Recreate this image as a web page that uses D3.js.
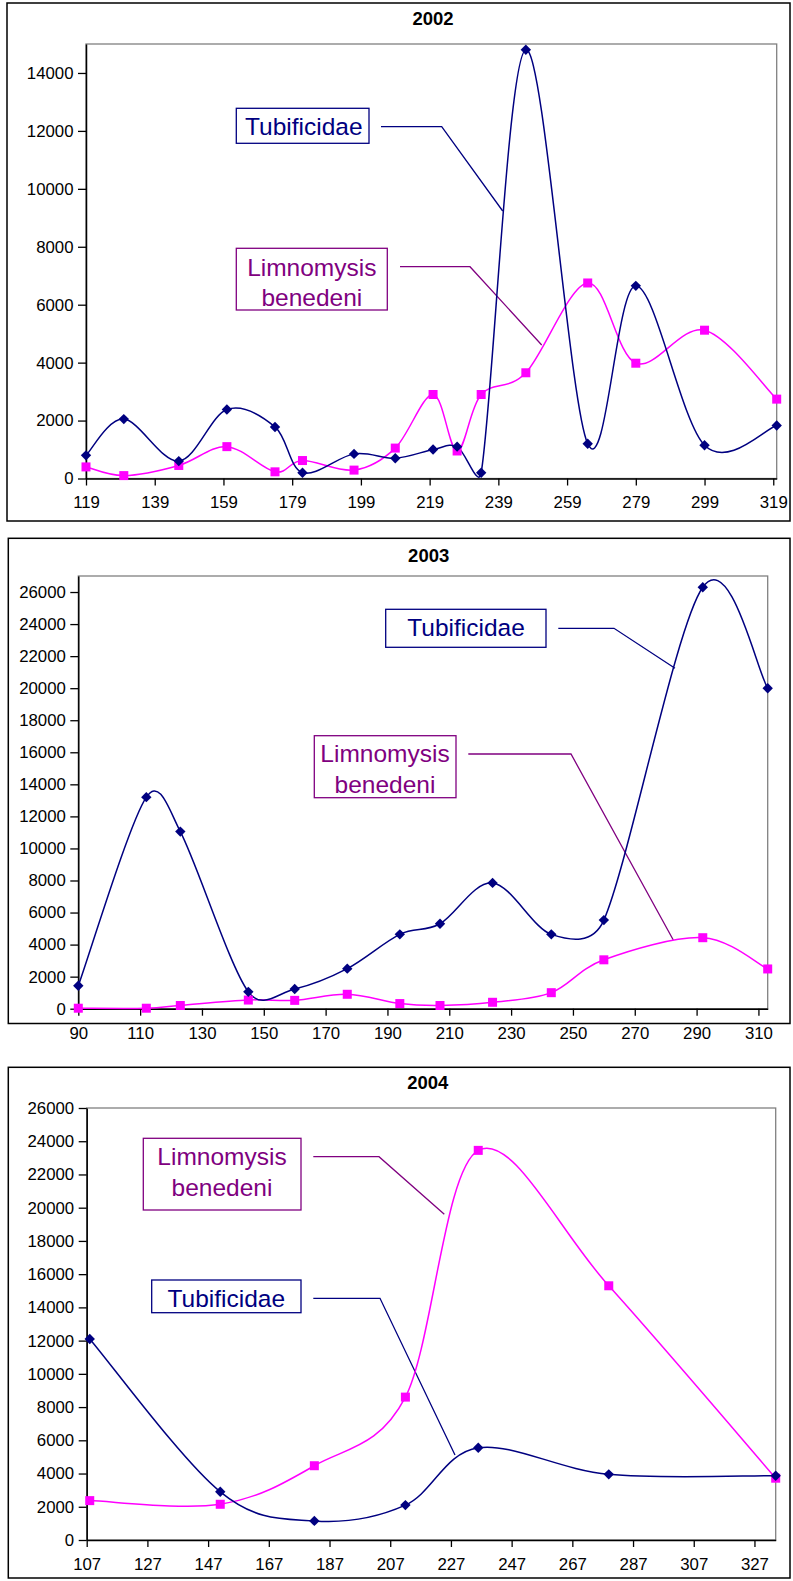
<!DOCTYPE html>
<html><head><meta charset="utf-8">
<script src="https://cdn.jsdelivr.net/npm/d3@7"></script>
<style>body{margin:0;background:#fff}</style>
</head><body><svg id="c" width="793" height="1581"></svg>
<script>
// ---------- data ----------
const days2002 = [119,130,146,160,174,182,197,209,220,227,234,247,265,279,299,320];
const tub2002  = [800,2050,600,2380,1780,200,850,700,1000,1100,200,14800,1200,6650,1150,1830];
const lim2002  = [400,100,450,1100,230,620,290,1050,2900,950,2900,3650,6750,3980,5120,2740];
const xTicks2002 = [119,139,159,179,199,219,239,259,279,299,319];
const yTicks2002 = [0,2000,4000,6000,8000,10000,12000,14000];

const days2003 = [90,112,123,145,160,177,194,207,224,243,260,292,313];
const tub2003  = [1430,13200,11050,1050,1230,2500,4640,5300,7850,4640,5530,26300,20000];
const lim2003  = [30,30,200,540,520,900,320,200,400,1000,3050,4430,2480];
const xTicks2003 = [90,110,130,150,170,190,210,230,250,270,290,310];
const yTicks2003 = [0,2000,4000,6000,8000,10000,12000,14000,16000,18000,20000,22000,24000,26000];

const days2004 = [108,151,182,212,236,279,334];
const tub2004  = [12100,2900,1150,2100,5550,3950,3870];
const lim2004  = [2370,2150,4470,8600,23450,15300,3720];
const xTicks2004 = [107,127,147,167,187,207,227,247,267,287,307,327];
const yTicks2004 = [0,2000,4000,6000,8000,10000,12000,14000,16000,18000,20000,22000,24000,26000];

const seriesNames = ["Tubificidae", "Limnomysis benedeni"];

// ---------- layout ----------
const NAVY = "#000080", MAG = "#FF00FF", PURP = "#800080";
const FONT = "'Liberation Sans', Arial, Helvetica, sans-serif";
const panels = [
  { title:"2002", outer:[7,3,790,521], plot:[86,44,776.7,478.5], xd:[119,320], yd:[0,15000],
    days:days2002, tub:tub2002, lim:lim2002, xt:xTicks2002, yt:yTicks2002, titlePos:[433,25],
    tubBox:{r:[236.3,108.3,369,143.3], lines:[135], cx:303.8, lead:[[381,126.7],[441.7,126.7],[502.7,211]]},
    limBox:{r:[236.3,248.3,387.3,310], lines:[276,306], cx:311.8, lead:[[400,266.7],[470,266.7],[541.7,345]]} },
  { title:"2003", outer:[8.3,538.3,790,1023.5], plot:[78.3,576,767.7,1008.7], xd:[90,313], yd:[0,27000],
    days:days2003, tub:tub2003, lim:lim2003, xt:xTicks2003, yt:yTicks2003, titlePos:[428.7,561.7],
    tubBox:{r:[385.7,609.3,546,647.3], lines:[636], cx:466, lead:[[558.3,628.3],[614,628.3],[675,668.3]]},
    limBox:{r:[314.3,735.7,456,797.7], lines:[761.7,792.7], cx:385, lead:[[468.3,754],[571,754],[673.3,940]]} },
  { title:"2004", outer:[8.3,1067.3,790,1578], plot:[86.7,1108,775.7,1540], xd:[107,334], yd:[0,26000],
    days:days2004, tub:tub2004, lim:lim2004, xt:xTicks2004, yt:yTicks2004, titlePos:[427.8,1089],
    tubBox:{r:[151.7,1280,301,1312.7], lines:[1306.7], cx:226.3, lead:[[313.3,1298.3],[380,1298.3],[455,1455]]},
    limBox:{r:[143.3,1138.3,301,1210], lines:[1165,1195.7], cx:222, lead:[[313.3,1156.7],[379,1156.7],[444.3,1214.3]]} }
];

// Excel-like smoothed line: cubic Bezier with tangents (P[i+1]-P[i-1])/6,
// each control arm capped at half of its adjacent segment length.
function smoothPath(P) {
  const n = P.length;
  if (n < 2) return "";
  const dist = (a, b) => Math.hypot(b[0]-a[0], b[1]-a[1]);
  const outC = [], inC = [];
  for (let i = 0; i < n; i++) {
    const a = P[Math.max(0, i-1)], b = P[Math.min(n-1, i+1)];
    const bx = (b[0]-a[0])/6, by = (b[1]-a[1])/6;
    const bl = Math.hypot(bx, by) || 1;
    const dOut = i < n-1 ? dist(P[i], P[i+1]) : 0;
    const dIn = i > 0 ? dist(P[i-1], P[i]) : 0;
    const so = Math.min(1, (dOut/2)/bl), si = Math.min(1, (dIn/2)/bl);
    outC.push([P[i][0] + bx*so, P[i][1] + by*so]);
    inC.push([P[i][0] - bx*si, P[i][1] - by*si]);
  }
  let d = `M${P[0][0]},${P[0][1]}`;
  for (let i = 0; i < n-1; i++) {
    d += `C${outC[i][0]},${outC[i][1]},${inC[i+1][0]},${inC[i+1][1]},${P[i+1][0]},${P[i+1][1]}`;
  }
  return d;
}

const svg = d3.select("#c");

panels.forEach(p => {
  const g = svg.append("g");
  const [ox0, oy0, ox1, oy1] = p.outer;
  g.append("rect").attr("x", ox0).attr("y", oy0).attr("width", ox1-ox0).attr("height", oy1-oy0)
    .attr("fill", "#fff").attr("stroke", "#000").attr("stroke-width", 1.5);

  const [px0, py0, px1, py1] = p.plot;
  const x = d3.scaleLinear().domain(p.xd).range([px0, px1]);
  const y = d3.scaleLinear().domain(p.yd).range([py1, py0]);

  g.append("rect").attr("x", px0).attr("y", py0).attr("width", px1-px0).attr("height", py1-py0)
    .attr("fill", "#fff").attr("stroke", "#808080").attr("stroke-width", 1.3);

  g.append("text").attr("x", p.titlePos[0]).attr("y", p.titlePos[1]).attr("text-anchor", "middle")
    .attr("font-family", FONT).attr("font-weight", "bold").attr("font-size", 18.5).text(p.title);

  const ya = g.append("g").attr("transform", `translate(${px0},0)`)
    .call(d3.axisLeft(y).tickValues(p.yt).tickSize(8).tickSizeOuter(0).tickPadding(4.5).tickFormat(d3.format("d")));
  const xa = g.append("g").attr("transform", `translate(0,${py1})`)
    .call(d3.axisBottom(x).tickValues(p.xt).tickSize(7).tickSizeOuter(0).tickPadding(11).tickFormat(d3.format("d")));
  [ya, xa].forEach(a => {
    a.attr("font-family", FONT).attr("font-size", 16.8);
    a.selectAll("text").attr("font-family", FONT).attr("font-size", 16.8).attr("fill", "#000");
    a.selectAll("line").attr("stroke", "#000").attr("stroke-width", 1.3);
    a.select(".domain").attr("stroke", "#000").attr("stroke-width", 1.5);
  });

  const drawBox = (b, color, lines) => {
    g.append("path").attr("d", d3.line()(b.lead)).attr("fill", "none").attr("stroke", color).attr("stroke-width", 1.3);
    g.append("rect").attr("x", b.r[0]).attr("y", b.r[1]).attr("width", b.r[2]-b.r[0]).attr("height", b.r[3]-b.r[1])
      .attr("fill", "#fff").attr("stroke", color).attr("stroke-width", 1.3);
    lines.forEach((t, i) => {
      g.append("text").attr("x", b.cx).attr("y", b.lines[i]).attr("text-anchor", "middle")
        .attr("font-family", FONT).attr("font-size", 24.5).attr("fill", color).text(t);
    });
  };
  drawBox(p.tubBox, NAVY, [seriesNames[0]]);
  drawBox(p.limBox, PURP, seriesNames[1].split(" "));

  const tubPts = p.days.map((d, i) => [d, p.tub[i]]);
  const limPts = p.days.map((d, i) => [d, p.lim[i]]);
  const toPx = pts => pts.map(d => [x(d[0]), y(d[1])]);

  g.append("path").attr("d", smoothPath(toPx(limPts))).attr("fill", "none").attr("stroke", MAG).attr("stroke-width", 1.5);
  g.append("path").attr("d", smoothPath(toPx(tubPts))).attr("fill", "none").attr("stroke", NAVY).attr("stroke-width", 1.5);

  g.selectAll(null).data(limPts).enter().append("rect")
    .attr("x", d => x(d[0]) - 4.5).attr("y", d => y(d[1]) - 4.5).attr("width", 9).attr("height", 9)
    .attr("fill", MAG);
  g.selectAll(null).data(tubPts).enter().append("path")
    .attr("d", d => { const cx = x(d[0]), cy = y(d[1]), r = 5.2; return `M${cx},${cy-r}L${cx+r},${cy}L${cx},${cy+r}L${cx-r},${cy}Z`; })
    .attr("fill", NAVY);
});
</script>
</body></html>
